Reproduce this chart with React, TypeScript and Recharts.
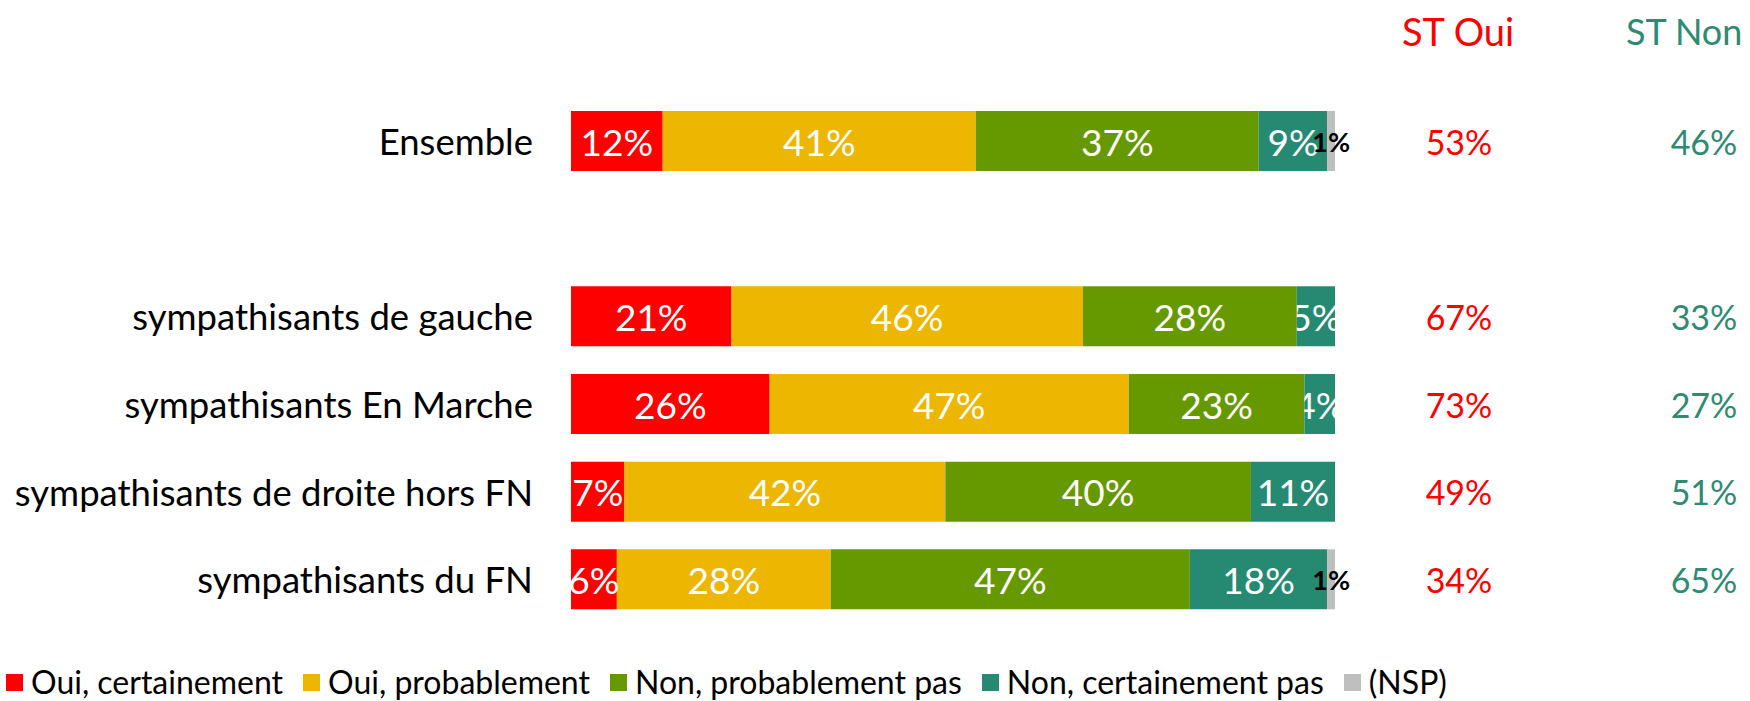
import React from 'react';
import { BarChart, Bar, XAxis, YAxis, LabelList } from 'recharts';

const categories = ['Ensemble', '', 'sympathisants de gauche', 'sympathisants En Marche', 'sympathisants de droite hors FN', 'sympathisants du FN'];
const ouiCertainement = [12, null, 21, 26, 7, 6];
const ouiProbablement = [41, null, 46, 47, 42, 28];
const nonProbablement = [37, null, 28, 23, 40, 47];
const nonCertainement = [9, null, 5, 4, 11, 18];
const nsp = [1, null, 0, 0, 0, 1];
const stOui = [53, null, 67, 73, 49, 34];
const stNon = [46, null, 33, 27, 51, 65];

const seriesNames = ['Oui, certainement', 'Oui, probablement', 'Non, probablement pas', 'Non, certainement pas', '(NSP)'];
const colors = ['#FF0000', '#EDB600', '#669900', '#268A73', '#BFBFBF'];

const FONT = 'Lato, "Open Sans", sans-serif';
const RED = '#FF0000';
const TEAL = '#2E8B72';

const data = categories.map((name, i) => ({
  name,
  ouiCert: ouiCertainement[i],
  ouiProb: ouiProbablement[i],
  nonProb: nonProbablement[i],
  nonCert: nonCertainement[i],
  nsp: nsp[i],
  stOui: stOui[i],
  stNon: stNon[i],
}));

const PLOT_RIGHT = 1335;

// white value labels; the last teal segment gets clipped at the plot edge like Excel does
const whiteLabel = (clip: boolean) => (props: any) => {
  const { x, y, width, height, value } = props;
  if (value == null || value === 0) return null;
  const id = `clip-${Math.round(y)}-${Math.round(x)}`;
  return (
    <g>
      {clip && (
        <defs>
          <clipPath id={id}>
            <rect x={x} y={y} width={PLOT_RIGHT - x} height={height} />
          </clipPath>
        </defs>
      )}
      <text
        x={x + width / 2}
        y={y + height / 2}
        textAnchor="middle"
        dominantBaseline="central"
        fill="#fff"
        fontSize={37}
        fontFamily={FONT}
        clipPath={clip ? `url(#${id})` : undefined}
      >
        {value}%
      </text>
    </g>
  );
};

const nspLabel = (props: any) => {
  const { x, y, width, height, value } = props;
  if (value == null || value === 0) return null;
  return (
    <text x={x + width / 2} y={y + height / 2} textAnchor="middle" dominantBaseline="central"
      fill="#000" fontSize={27} fontWeight="bold" fontFamily={FONT}>
      {value}%
    </text>
  );
};

// side columns (ST Oui / ST Non), placed at a fixed x on the bar's row
const sideLabel = (cx: number, color: string) => (props: any) => {
  const { y, height, value } = props;
  if (value == null) return null;
  return (
    <text x={cx} y={y + height / 2} textAnchor="middle" dominantBaseline="central"
      fill={color} fontSize={34} fontFamily={FONT}>
      {value}%
    </text>
  );
};

const CategoryTick = (props: any) => {
  const { y, payload } = props;
  return (
    <text x={533} y={y} textAnchor="end" dominantBaseline="central" fill="#000" fontSize={36.5} fontFamily={FONT}>
      {payload.value}
    </text>
  );
};

const LegendRow = () => (
  <div style={{ position: 'absolute', left: 6, top: 664, height: 36, display: 'flex', alignItems: 'center', fontFamily: FONT, fontSize: 32, lineHeight: '36px', color: '#000', whiteSpace: 'nowrap' }}>
    {seriesNames.map((s, i) => (
      <div key={s} style={{ display: 'flex', alignItems: 'center', marginRight: 20 }}>
        <span style={{ width: 17, height: 17, background: colors[i], display: 'inline-block', marginRight: 8 }} />
        <span>{s}</span>
      </div>
    ))}
  </div>
);

export default function App() {
  const keys = ['ouiCert', 'ouiProb', 'nonProb', 'nonCert', 'nsp'];
  return (
    <div style={{ position: 'absolute', left: 0, top: 0, width: 1750, height: 701, background: '#fff', overflow: 'hidden' }}>
      <div style={{ position: 'absolute', left: 1402, top: 9, color: RED, fontFamily: FONT, fontSize: 38, whiteSpace: 'nowrap', lineHeight: '44px' }}>ST Oui</div>
      <div style={{ position: 'absolute', left: 1626, top: 9, color: TEAL, fontFamily: FONT, fontSize: 36, whiteSpace: 'nowrap', lineHeight: '44px' }}>ST Non</div>
      <BarChart
        width={1750}
        height={701}
        data={data}
        layout="vertical"
        margin={{ top: 97, right: 1750 - PLOT_RIGHT, bottom: 78, left: 0 }}
        barSize={60}
      >
        <XAxis type="number" domain={[0, 100]} hide />
        <YAxis type="category" dataKey="name" width={571} axisLine={false} tickLine={false} tick={<CategoryTick />} interval={0} />
        {keys.map((k, i) => (
          <Bar key={k} dataKey={k} stackId="a" fill={colors[i]} isAnimationActive={false}>
            {i < 4 && <LabelList dataKey={k} content={whiteLabel(i === 3)} />}
            {i === 0 && <LabelList dataKey="stOui" content={sideLabel(1459, RED)} />}
            {i === 0 && <LabelList dataKey="stNon" content={sideLabel(1704, TEAL)} />}
            {i === 4 && <LabelList dataKey={k} content={nspLabel} />}
          </Bar>
        ))}
      </BarChart>
      <LegendRow />
    </div>
  );
}
